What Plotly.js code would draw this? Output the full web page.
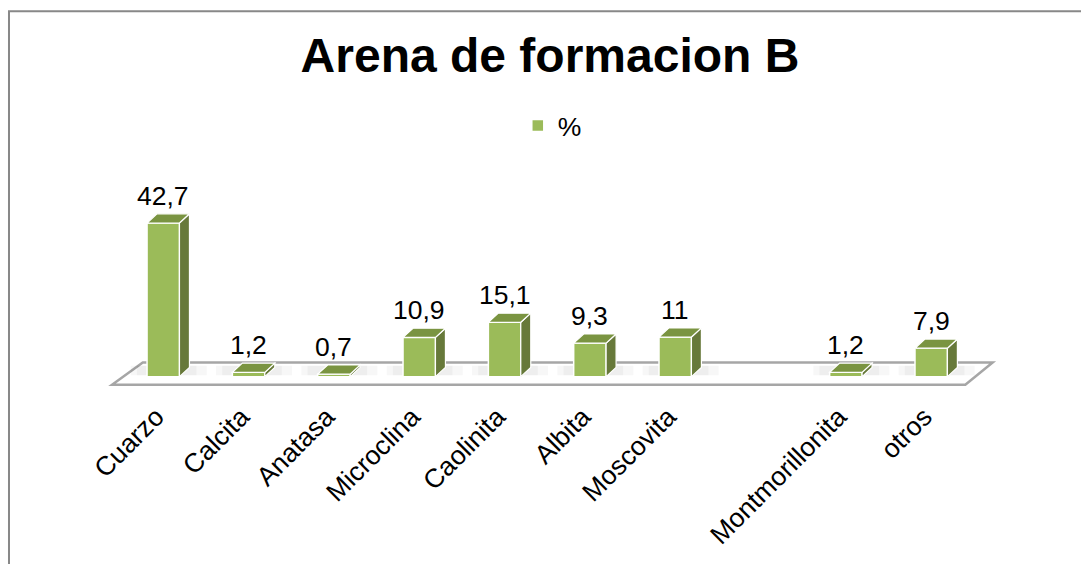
<!DOCTYPE html>
<html>
<head>
<meta charset="utf-8">
<script src="https://cdn.plot.ly/plotly-3.0.1.min.js"></script>
<style>html,body{margin:0;padding:0;background:#fff}#chart{width:1081px;height:564px}</style>
</head>
<body>
<div id="chart"></div>
<script>
// ---- data ----
const categories = ["Cuarzo", "Calcita", "Anatasa", "Microclina", "Caolinita", "Albita", "Moscovita", "", "Montmorillonita", "otros"];
const values = [42.7, 1.2, 0.7, 10.9, 15.1, 9.3, 11, null, 1.2, 7.9];
const labels = ["42,7", "1,2", "0,7", "10,9", "15,1", "9,3", "11", "", "1,2", "7,9"];
const seriesName = "%";
const titleText = "Arena de formacion B";

// ---- style ----
const FONT = "Liberation Sans, Arial, sans-serif";
const FS = 26.5;
const FRONT = "#9BBB59", SIDE = "#67793A", TOP = "#7A9441";
const BW = 0.38;       // bar width (category units)
const DX = 0.117;      // depth offset x (category units)
const DY = 2.55;       // depth offset y (value units)

const xs = categories.map((c, i) => i);
const shapes = [];

// floor (parallelogram)
shapes.push({
  type: "path", xref: "x", yref: "y", layer: "below",
  path: "M -0.60,-2.25 L -0.24,3.95 L 9.72,3.95 L 9.40,-2.25 Z",
  fillcolor: "#ffffff", line: {color: "#A6A6A6", width: 2.5}
});

// soft shadows on the floor behind each bar
xs.forEach(i => {
  const v = values[i];
  if (v === null || v === undefined) return;
  [[0.32, 0.03], [0.2, 0.035]].forEach(([ext, a]) => {
    shapes.push({
      type: "rect", xref: "x", yref: "y", layer: "below",
      x0: i - BW / 2 - ext * 0.6, x1: i + BW / 2 + ext, y0: 0.4, y1: 3.0,
      fillcolor: `rgba(0,0,0,${a})`, line: {width: 0}
    });
  });
});

// 3D side and top faces computed from the values
xs.forEach(i => {
  const v = values[i];
  if (v === null || v === undefined) return;
  const r = i + BW / 2, l = i - BW / 2;
  shapes.push({
    type: "path", xref: "x", yref: "y", layer: "above",
    path: `M ${r},0 L ${r + DX},${DY} L ${r + DX},${v + DY} L ${r},${v} Z`,
    fillcolor: SIDE, line: {color: "#ffffff", width: 1.2}
  });
  shapes.push({
    type: "path", xref: "x", yref: "y", layer: "above",
    path: `M ${l},${v} L ${l + DX},${v + DY} L ${r + DX},${v + DY} L ${r},${v} Z`,
    fillcolor: TOP, line: {color: "#ffffff", width: 1.2}
  });
});

// chart frame
shapes.push({
  type: "rect", xref: "paper", yref: "paper",
  x0: -0.0942, y0: -1.0, x1: 1.2, y1: 1.6333,
  line: {color: "#888888", width: 2}, fillcolor: "rgba(0,0,0,0)"
});

const annotations = xs.filter(i => values[i] !== null).map(i => ({
  x: i, y: values[i] + DY, xref: "x", yref: "y",
  text: labels[i], showarrow: false, yanchor: "bottom", xanchor: "center",
  yshift: 1, font: {family: FONT, size: FS, color: "#000"}
}));

const trace = {
  type: "bar", x: xs, y: values, name: seriesName, width: BW,
  marker: {color: FRONT, line: {color: "#ffffff", width: 1.5}},
  hoverinfo: "x+y", showlegend: true
};

const layout = {
  width: 1081, height: 564,
  margin: {l: 95, r: 73, t: 160, b: 169, pad: 0},
  paper_bgcolor: "#ffffff", plot_bgcolor: "rgba(0,0,0,0)",
  font: {family: FONT, size: FS, color: "#000"},
  title: {
    text: "<b>" + titleText + "</b>",
    font: {family: FONT, size: 48, color: "#000"},
    xref: "container", yref: "container", x: 0.5088, xanchor: "center",
    y: 0.9025, yanchor: "middle"
  },
  showlegend: true,
  legend: {
    orientation: "h", xref: "container", yref: "container",
    x: 0.479, xanchor: "left", y: 0.777, yanchor: "middle",
    font: {family: FONT, size: FS, color: "#000"}, bgcolor: "rgba(0,0,0,0)"
  },
  xaxis: {
    range: [-0.8, 9.9], tickmode: "array", tickvals: xs, ticktext: categories,
    tickangle: -45, tickfont: {family: FONT, size: FS, color: "#000"},
    ticklabelshift: -7,
    showgrid: false, zeroline: false, showline: false, ticks: "", fixedrange: true
  },
  yaxis: {
    range: [-5.1, 60.2], visible: false, showgrid: false, zeroline: false, fixedrange: true
  },
  shapes: shapes,
  annotations: annotations
};

Plotly.newPlot("chart", [trace], layout, {displayModeBar: false, staticPlot: true});
</script>
</body>
</html>
